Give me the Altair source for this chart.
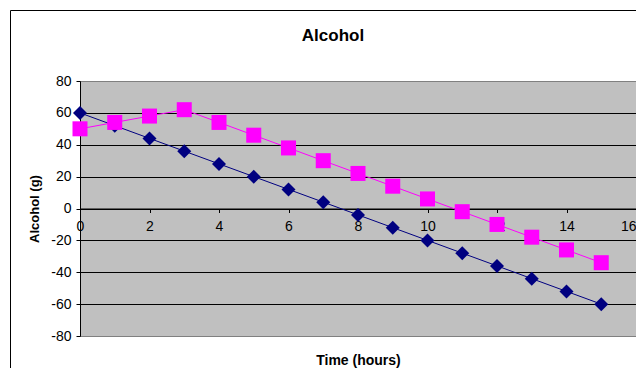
import altair as alt
import pandas as pd

# ---- data ----
hours = list(range(16))
series_navy = [60, 52, 44, 36, 28, 20, 12, 4, -4, -12, -20, -28, -36, -44, -52, -60]
series_pink = [50, 54, 58, 62, 54, 46, 38, 30, 22, 14, 6, -2, -10, -18, -26, -34]
x_ticks = [0, 2, 4, 6, 8, 10, 12, 14, 16]
y_ticks = [-80, -60, -40, -20, 0, 20, 40, 60, 80]
chart_title = "Alcohol"

df = pd.DataFrame({"hours": hours, "navy": series_navy, "pink": series_pink})

W, H = 556, 255
FONT = "Liberation Sans"
LABEL_EXPR = "replace(datum.label, '\u2212', '-')"

x_enc = alt.X(
    "hours:Q",
    scale=alt.Scale(domain=[0, 16], nice=False, zero=False),
    axis=alt.Axis(
        values=x_ticks,
        title="Time (hours)",
        offset=-H / 2,
        grid=False,
        tickSize=4,
        tickColor="black",
        domainColor="black",
        labelPadding=7,
        labelFlush=False,
        labelAlign={"expr": "datum.value >= 16 ? 'right' : 'center'"},
        labelFont=FONT,
        labelFontSize=14,
        labelColor="black",
        labelExpr=LABEL_EXPR,
        titleFont=FONT,
        titleFontSize=14,
        titleFontWeight="bold",
        titleColor="black",
        titleBaseline="middle",
        titleY=152,
    ),
)


def y_enc(field):
    return alt.Y(
        f"{field}:Q",
        scale=alt.Scale(domain=[-80, 80], nice=False, zero=False),
        axis=alt.Axis(
            values=y_ticks,
            title="Alcohol (g)",
            grid=True,
            gridColor={"condition": {"test": "abs(datum.value) == 80", "value": "#808080"}, "value": "black"},
            gridWidth=1,
            tickSize=4,
            tickColor="black",
            domainColor="black",
            labelPadding=5,
            labelFont=FONT,
            labelFontSize=14,
            labelColor="black",
            labelExpr=LABEL_EXPR,
            titleFont=FONT,
            titleFontSize=13,
            titleFontWeight="bold",
            titleColor="black",
            titleBaseline="middle",
            titleAlign="center",
            titleAngle=270,
            titleX=-46,
            titleY=H / 2,
        ),
    )


one = alt.Data(values=[{"t": chart_title}])

frame = alt.Chart(one).mark_rect(
    filled=False, stroke="black", strokeWidth=1
).encode(
    x=alt.value(-69.5), x2=alt.value(W + 100), y=alt.value(-70.5), y2=alt.value(H + 100)
)

title_mark = alt.Chart(one).mark_text(
    font=FONT, fontSize=17, fontWeight="bold", color="black", align="center", baseline="middle"
).encode(text="t:N", x=alt.value(253), y=alt.value(-45.5))

base = alt.Chart(df)

navy_line = base.mark_line(color="#000080", strokeWidth=1).encode(x=x_enc, y=y_enc("navy"))
navy_pts = base.mark_point(
    shape="diamond", filled=True, size=196, color="#000080", opacity=1
).encode(x=x_enc, y=y_enc("navy"))
pink_line = base.mark_line(color="#FF00FF", strokeWidth=1).encode(x=x_enc, y=y_enc("pink"))
pink_pts = base.mark_point(
    shape="square", filled=True, size=225, color="#FF00FF", opacity=1
).encode(x=x_enc, y=y_enc("pink"))

chart = (
    alt.layer(frame, title_mark, navy_line, navy_pts, pink_line, pink_pts)
    .properties(
        width=W,
        height=H,
        background="white",
        autosize=alt.AutoSizeParams(type="none"),
        padding={"left": 72, "top": 73, "right": 0, "bottom": 32},
    )
    .configure_view(fill="#C0C0C0", stroke="#808080", strokeWidth=1)
)

chart.save("out.html", embed_options={"renderer": "svg", "actions": False})
